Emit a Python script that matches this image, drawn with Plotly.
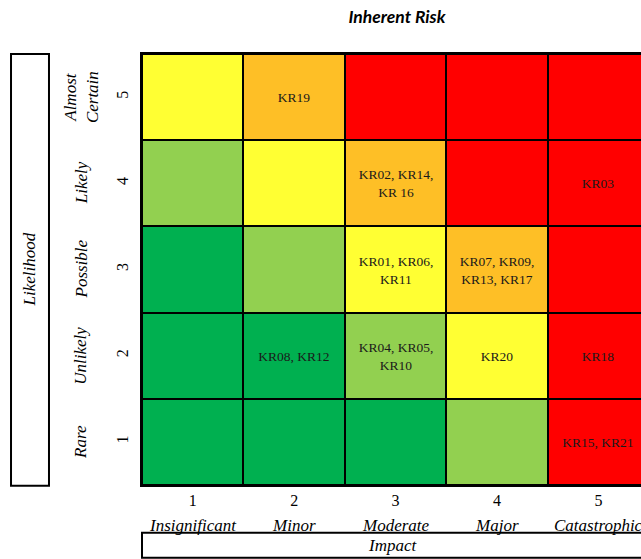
import plotly.graph_objects as go

# Axes of the risk matrix
impact = [1, 2, 3, 4, 5]
impact_names = ["Insignificant", "Minor", "Moderate", "Major", "Catastrophic"]
likelihood = [1, 2, 3, 4, 5]
likelihood_names = ["Rare", "Unlikely", "Possible", "Likely", "Almost<br>Certain"]

# Risk rating per cell (0 = low ... 4 = extreme); rows run from likelihood 1 to 5
rating = [
    [0, 0, 0, 1, 4],
    [0, 0, 1, 2, 4],
    [0, 1, 2, 3, 4],
    [1, 2, 3, 4, 4],
    [2, 3, 4, 4, 4],
]

# Key risks placed in each cell; rows run from likelihood 1 to 5
risks = [
    ["", "", "", "", "KR15, KR21"],
    ["", "KR08, KR12", "KR04, KR05,<br>KR10", "KR20", "KR18"],
    ["", "", "KR01, KR06,<br>KR11", "KR07, KR09,<br>KR13, KR17", ""],
    ["", "", "KR02, KR14,<br>KR 16", "", "KR03"],
    ["", "KR19", "", "", ""],
]

rating_colors = ["#00B050", "#92D050", "#FFFF33", "#FEBF26", "#FF0000"]

# Discrete colour scale: one flat band per rating level
n = len(rating_colors)
colorscale = []
for i, c in enumerate(rating_colors):
    lo = max(0.0, (i - 0.5) / (n - 1))
    hi = min(1.0, (i + 0.5) / (n - 1))
    colorscale += [[lo, c], [hi, c]]

serif = "Liberation Serif"

fig = go.Figure(
    go.Heatmap(
        x=impact,
        y=likelihood,
        z=rating,
        zmin=0,
        zmax=n - 1,
        colorscale=colorscale,
        showscale=False,
        xgap=2,
        ygap=2,
        text=risks,
        texttemplate="%{text}",
        textfont=dict(family=serif, size=13.5, color="#1a1a1a"),
        hoverinfo="skip",
    )
)

annotations = []
# Impact category names under the digits
for x, name in zip(impact, impact_names):
    annotations.append(dict(
        x=x, xref="x", y=0, yref="paper", yshift=-40,
        text=name, showarrow=False, xanchor="center", yanchor="middle",
        font=dict(family=serif, size=17, color="black", style="italic"),
    ))
# Likelihood category names, rotated
for y, name in zip(likelihood, likelihood_names):
    annotations.append(dict(
        x=0, xref="paper", xshift=-61, y=y, yref="y",
        text=name, showarrow=False, textangle=-90,
        xanchor="center", yanchor="middle",
        font=dict(family=serif, size=17, color="black", style="italic"),
    ))
# Axis captions inside their boxes
annotations.append(dict(
    x=0.503, xref="paper", y=-0.141, yref="paper",
    text="Impact", showarrow=False, xanchor="center", yanchor="middle",
    font=dict(family=serif, size=17, color="black", style="italic"),
))
annotations.append(dict(
    x=-0.2245, xref="paper", y=0.50, yref="paper",
    text="Likelihood", showarrow=False, textangle=-90,
    xanchor="center", yanchor="middle",
    font=dict(family=serif, size=17, color="black", style="italic"),
))

shapes = [
    # box around the "Impact" caption
    dict(type="rect", xref="paper", yref="paper",
         x0=0.0, x1=1.03, y0=-0.169, y1=-0.111,
         line=dict(color="black", width=2), fillcolor="rgba(0,0,0,0)"),
    # box around the "Likelihood" caption
    dict(type="rect", xref="paper", yref="paper",
         x0=-0.2625, x1=-0.1864, y0=-0.002, y1=1.0,
         line=dict(color="black", width=2), fillcolor="rgba(0,0,0,0)"),
]

fig.update_layout(
    width=641,
    height=559,
    margin=dict(l=142, r=0, t=54, b=74),
    paper_bgcolor="white",
    plot_bgcolor="black",
    title=dict(
        text="Inherent Risk",
        x=0.511, xref="paper", xanchor="center",
        y=0.97, yref="container", yanchor="middle",
        font=dict(family="Lato", size=17.5, color="black", weight="bold", style="italic"),
    ),
    xaxis=dict(
        range=[0.5, 5.42],
        tickvals=impact,
        ticktext=[str(v) for v in impact],
        tickfont=dict(family=serif, size=16, color="black"),
        ticks="",
        showline=True, mirror=True, linecolor="black", linewidth=2,
        showgrid=False, zeroline=False, fixedrange=True,
    ),
    yaxis=dict(
        range=[0.5, 5.5],
        tickvals=likelihood,
        ticktext=[str(v) for v in likelihood],
        tickangle=-90,
        tickfont=dict(family=serif, size=16, color="black"),
        ticks="",
        ticklabelstandoff=6,
        showline=True, mirror=False, linecolor="black", linewidth=2,
        showgrid=False, zeroline=False, fixedrange=True,
    ),
    annotations=annotations,
    shapes=shapes,
    showlegend=False,
)

fig.write_html("out.html")
